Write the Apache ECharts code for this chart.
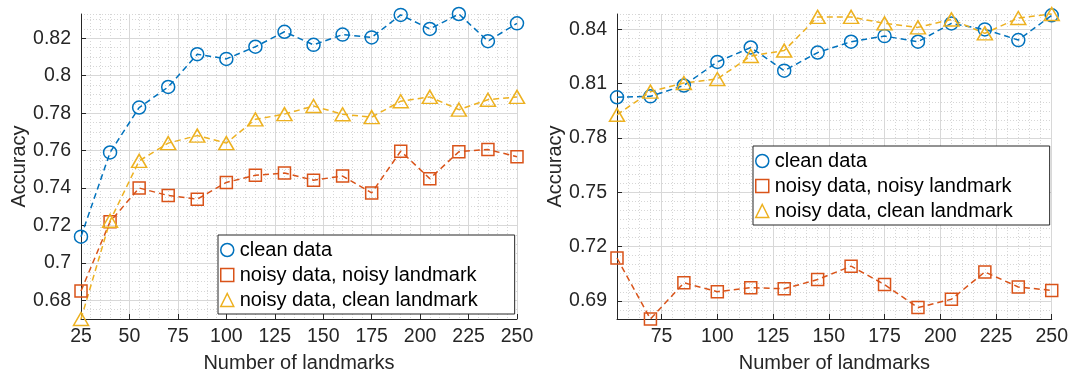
<!DOCTYPE html>
<html><head><meta charset="utf-8">
<script src="https://cdn.jsdelivr.net/npm/echarts@6/dist/echarts.min.js"></script>
<style>html,body{margin:0;padding:0;background:#fff}#c{width:1071px;height:378px}</style>
</head><body><div id="c"></div>
<script>
// ---------- data ----------
const seriesNames = ['clean data', 'noisy data, noisy landmark', 'noisy data, clean landmark'];

const xLeft = [25, 40, 55, 70, 85, 100, 115, 130, 145, 160, 175, 190, 205, 220, 235, 250];
const cleanLeft = [0.714, 0.759, 0.783, 0.794, 0.8115, 0.809, 0.8155, 0.8235, 0.8165, 0.822, 0.8205, 0.8325, 0.825, 0.833, 0.8185, 0.828];
const noisyNoisyLeft = [0.685, 0.722, 0.740, 0.736, 0.734, 0.743, 0.7468, 0.748, 0.7442, 0.7464, 0.7374, 0.7597, 0.745, 0.7594, 0.7606, 0.7567];
const noisyCleanLeft = [0.670, 0.7225, 0.7545, 0.764, 0.768, 0.764, 0.7767, 0.7795, 0.7838, 0.7794, 0.7779, 0.7864, 0.7887, 0.7819, 0.7872, 0.7887];

const xRight = [55, 70, 85, 100, 115, 130, 145, 160, 175, 190, 205, 220, 235, 250];
const cleanRight = [0.8025, 0.803, 0.809, 0.822, 0.830, 0.8172, 0.8272, 0.8332, 0.8363, 0.8332, 0.8433, 0.840, 0.8341, 0.8478];
const noisyNoisyRight = [0.7137, 0.680, 0.700, 0.6951, 0.6973, 0.6967, 0.7018, 0.7092, 0.699, 0.6863, 0.6909, 0.706, 0.6977, 0.6958];
const noisyCleanRight = [0.7928, 0.8056, 0.8104, 0.8126, 0.8253, 0.8283, 0.8469, 0.8469, 0.8433, 0.8411, 0.8455, 0.8378, 0.8463, 0.8485];

const xTicksLeft = [25, 50, 75, 100, 125, 150, 175, 200, 225, 250];
const yTicksLeft = [0.68, 0.70, 0.72, 0.74, 0.76, 0.78, 0.80, 0.82];
const xTicksRight = [75, 100, 125, 150, 175, 200, 225, 250];
const yTicksRight = [0.69, 0.72, 0.75, 0.78, 0.81, 0.84];

const xRangeLeft = [25, 250], yRangeLeft = [0.67, 0.833];
const xRangeRight = [55, 250], yRangeRight = [0.68, 0.8485];
const xMinorStep = 5, yMinorStepLeft = 0.005, yMinorStepRight = 0.005;

// ---------- style ----------
const FONT = "'Liberation Sans', Arial, Helvetica, sans-serif";
const TXT = '#262626';
const colors = ['#0072BD', '#D95319', '#EDB120'];
const symbols = ['circle', 'rect', 'triangle'];
const symbolSizes = [13, 12, [15, 13]];

function pairs(xs, ys) { return xs.map((x, i) => [x, ys[i]]); }

function mainX(gi, range, ticks) {
  return {
    type: 'value', gridIndex: gi, min: range[0], max: range[1], position: 'bottom', z: 1,
    axisLine: { show: true, onZero: false, lineStyle: { color: TXT, width: 1 } },
    axisTick: { show: true, inside: true, length: 5, customValues: ticks, lineStyle: { color: TXT } },
    axisLabel: { customValues: ticks, fontSize: 19.5, fontFamily: FONT, color: TXT, margin: 8 },
    splitLine: { show: true, lineStyle: { color: '#d8d8d8', width: 1 } },
    name: 'Number of landmarks', nameLocation: 'middle', nameGap: 34,
    nameTextStyle: { fontSize: 20, fontFamily: FONT, color: TXT }
  };
}
function mainY(gi, range, ticks, gap) {
  return {
    type: 'value', gridIndex: gi, min: range[0], max: range[1], position: 'left', z: 1,
    axisLine: { show: true, onZero: false, lineStyle: { color: TXT, width: 1 } },
    axisTick: { show: true, inside: true, length: 5, customValues: ticks, lineStyle: { color: TXT } },
    axisLabel: { customValues: ticks, fontSize: 19.5, fontFamily: FONT, color: TXT, margin: 10 },
    splitLine: { show: true, lineStyle: { color: '#d8d8d8', width: 1 } },
    name: 'Accuracy', nameLocation: 'middle', nameGap: gap, nameRotate: 90,
    nameTextStyle: { fontSize: 20, fontFamily: FONT, color: TXT }
  };
}
function minorAxis(gi, range, step, pos) {
  return {
    type: 'value', gridIndex: gi, min: range[0], max: range[1], interval: step, position: pos, z: 0,
    axisLine: { show: false }, axisTick: { show: false }, axisLabel: { show: false },
    splitLine: { show: true, lineStyle: { color: '#d6d6d6', width: 1, type: [1, 2] } }
  };
}

function makeSeries(gi, xs, data) {
  return data.map((ys, k) => ({
    name: seriesNames[k], type: 'line', xAxisIndex: gi, yAxisIndex: gi,
    data: pairs(xs, ys), symbol: symbols[k], symbolSize: symbolSizes[k], showSymbol: true,
    clip: false, z: 3, animation: false,
    lineStyle: { color: colors[k], width: 1.5, type: [6, 4] },
    itemStyle: { color: 'rgba(255,255,255,0)', borderColor: colors[k], borderWidth: 1.5 },
    emphasis: { disabled: true }
  }));
}

function legendAt(left, top) {
  return {
    data: seriesNames.map((n, k) => ({
      name: n, icon: symbols[k],
      itemStyle: { color: 'rgba(255,255,255,0)', borderColor: colors[k], borderWidth: 1.5 }
    })),
    orient: 'vertical', left: left, top: top,
    itemWidth: 13, itemHeight: 13, itemGap: 5, padding: [5, 37, 4, 2],
    borderColor: TXT, borderWidth: 1, backgroundColor: '#fff', borderRadius: 0,
    textStyle: { fontSize: 20, fontFamily: FONT, color: '#000', padding: [0, 0, 0, 1] },
    selectedMode: false, z: 10
  };
}

const chart = echarts.init(document.getElementById('c'), null, { renderer: 'canvas' });
chart.setOption({
  animation: false,
  backgroundColor: '#fff',
  grid: [
    { left: 81, top: 14, width: 436, height: 308 },
    { left: 617, top: 14, width: 436, height: 308 }
  ],
  xAxis: [
    mainX(0, xRangeLeft, xTicksLeft),
    mainX(1, xRangeRight, xTicksRight),
    minorAxis(0, xRangeLeft, xMinorStep, 'top'),
    minorAxis(1, xRangeRight, xMinorStep, 'top')
  ],
  yAxis: [
    mainY(0, yRangeLeft, yTicksLeft, 50),
    mainY(1, yRangeRight, yTicksRight, 52),
    minorAxis(0, yRangeLeft, yMinorStepLeft, 'right'),
    minorAxis(1, yRangeRight, yMinorStepRight, 'right')
  ],
  legend: [legendAt(218, 235), legendAt(753, 146)],
  series: [].concat(
    makeSeries(0, xLeft, [cleanLeft, noisyNoisyLeft, noisyCleanLeft]),
    makeSeries(1, xRight, [cleanRight, noisyNoisyRight, noisyCleanRight])
  )
});
</script></body></html>
